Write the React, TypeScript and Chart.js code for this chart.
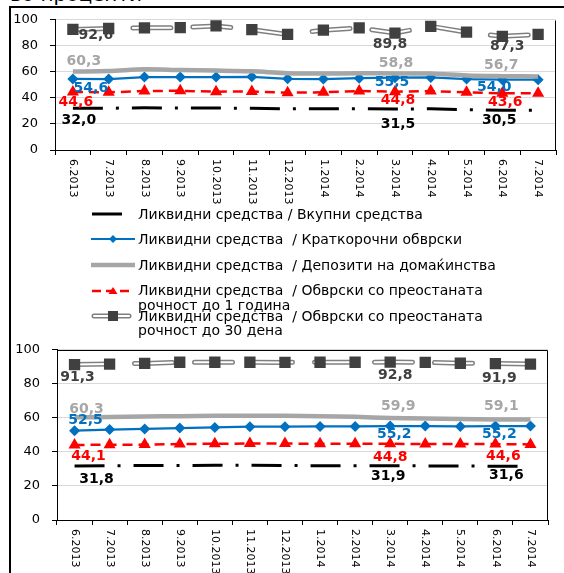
import React, { useEffect, useRef } from "react";
import { Chart, registerables } from "chart.js";

Chart.register(...registerables);
Chart.defaults.font.family = "DejaVu Sans";

// ---------- data ----------
const months = [
  "6.2013", "7.2013", "8.2013", "9.2013", "10.2013", "11.2013", "12.2013",
  "1.2014", "2.2014", "3.2014", "4.2014", "5.2014", "6.2014", "7.2014",
];

const seriesNames = [
  "Ликвидни средства / Вкупни средства",
  "Ликвидни средства  / Краткорочни обврски",
  "Ликвидни средства  / Депозити на домаќинства",
  "Ликвидни средства  / Обврски со преостаната\nрочност до 1 година",
  "Ликвидни средства  / Обврски со преостаната\nрочност до 30 дена",
];

const yTicks = [0, 20, 40, 60, 80, 100];

// upper panel
const upperTotalAssets = [32.0, 32.1, 32.4, 32.3, 32.2, 32.0, 31.7, 31.6, 31.8, 31.5, 31.6, 31.0, 30.5, 30.6];
const upperShortTerm = [54.6, 54.5, 56.0, 56.0, 56.0, 56.2, 54.7, 54.5, 55.2, 55.5, 55.7, 54.5, 54.0, 54.0];
const upperHouseholdDeposits = [60.3, 60.6, 62.0, 61.4, 61.0, 60.4, 59.0, 58.7, 59.0, 58.8, 58.7, 57.2, 56.7, 56.5];
const upperUpToOneYear = [44.6, 44.3, 45.3, 45.5, 44.8, 45.0, 44.0, 44.3, 45.3, 44.8, 45.3, 44.3, 43.6, 43.6];
const upperUpTo30Days = [92.6, 93.3, 93.8, 94.0, 95.3, 92.5, 88.8, 92.0, 93.8, 89.8, 95.0, 90.5, 87.3, 88.8];

// lower panel
const lowerTotalAssets = [31.8, 31.9, 32.0, 32.0, 32.1, 32.1, 32.0, 31.9, 31.9, 31.9, 31.8, 31.7, 31.6, 31.6];
const lowerShortTerm = [52.5, 53.1, 53.5, 54.0, 54.4, 54.8, 54.8, 55.0, 55.0, 55.2, 55.2, 55.0, 55.2, 55.2];
const lowerHouseholdDeposits = [60.3, 60.5, 60.8, 61.0, 61.2, 61.3, 61.3, 61.0, 60.6, 59.9, 59.6, 59.3, 59.1, 59.0];
const lowerUpToOneYear = [44.1, 44.2, 44.3, 44.6, 44.8, 44.9, 44.9, 44.8, 44.8, 44.8, 44.6, 44.6, 44.6, 44.4];
const lowerUpTo30Days = [91.3, 91.6, 92.0, 92.7, 92.7, 92.7, 92.6, 92.7, 92.7, 92.8, 92.6, 92.1, 91.9, 91.6];

// months whose values are written next to the marks
const labelledIndices = [0, 9, 12];

// ---------- styling ----------
const COLORS = {
  total: "#000000",
  shortTerm: "#0070C0",
  deposits: "#A6A6A6",
  oneYear: "#FF0000",
  days30: "#404040",
  days30Outline: "#7F7F7F",
  grid: "#D9D9D9",
};

type Pair = [number, number];
type OffsetSet = { total: Pair[]; shortTerm: Pair[]; deposits: Pair[]; oneYear: Pair[]; days30: Pair[] };

const upperLabelOffsets: OffsetSet = {
  days30: [[23, 6], [-5, 11], [5, 10]],
  deposits: [[11, -10], [1, -10], [-1, -11]],
  shortTerm: [[18, 9], [-3, 5], [-8, 8]],
  oneYear: [[3, 10], [3, 9], [3, 9]],
  total: [[6, 12], [3, 15], [-3, 10]],
};

const lowerLabelOffsets: OffsetSet = {
  days30: [[3, 13], [5, 13], [4, 15]],
  deposits: [[12, -8], [8, -12], [6, -13]],
  shortTerm: [[11, -10], [4, 8], [4, 8]],
  oneYear: [[14, 11], [0, 14], [8, 12]],
  total: [[22, 13], [-2, 11], [11, 9]],
};

const fmt = (v: number) => v.toFixed(1).replace(".", ",");

// ---------- plugins ----------
const valueLabelPlugin = {
  id: "valueLabels",
  afterDatasetsDraw(chart: any) {
    const ctx = chart.ctx;
    ctx.save();
    ctx.font = "bold 14px 'DejaVu Sans'";
    ctx.textAlign = "center";
    ctx.textBaseline = "middle";
    chart.data.datasets.forEach((ds: any, di: number) => {
      const spec = ds.valueLabels;
      if (!spec) return;
      const meta = chart.getDatasetMeta(di);
      labelledIndices.forEach((idx, k) => {
        const el = meta.data[idx];
        if (!el) return;
        const [dx, dy] = spec.offsets[k];
        ctx.fillStyle = spec.color;
        ctx.fillText(fmt(ds.data[idx]), el.x + dx, el.y + dy);
      });
    });
    ctx.restore();
  },
};

// category labels written downwards under each tick
const verticalLabelsPlugin = {
  id: "verticalLabels",
  afterDraw(chart: any) {
    const xs = chart.scales.x;
    const ctx = chart.ctx;
    ctx.save();
    ctx.font = "11px 'DejaVu Sans'";
    ctx.fillStyle = "#000";
    ctx.textAlign = "left";
    ctx.textBaseline = "middle";
    (chart.data.labels as string[]).forEach((lab, i) => {
      const x = xs.getPixelForValue(i);
      ctx.save();
      ctx.translate(x, xs.top + 9);
      ctx.rotate(Math.PI / 2);
      ctx.fillText(lab, 0, 0);
      ctx.restore();
    });
    ctx.restore();
  },
};

// extra border lines around the plot area
const framePlugin = {
  id: "frame",
  beforeDatasetsDraw(chart: any, _args: any, opts: any) {
    const sides: string[] = (opts && opts.sides) || [];
    if (!sides.length) return;
    const { left, right, top, bottom } = chart.chartArea;
    const ctx = chart.ctx;
    const l = Math.round(left) + 0.5;
    const r = Math.round(right) - 0.5;
    const t = Math.round(top) + 0.5;
    const b = Math.round(bottom) + 0.5;
    ctx.save();
    ctx.strokeStyle = "#000";
    ctx.lineWidth = 1;
    ctx.beginPath();
    if (sides.includes("top")) { ctx.moveTo(l, t); ctx.lineTo(r, t); }
    if (sides.includes("right")) { ctx.moveTo(r, t); ctx.lineTo(r, b); }
    ctx.stroke();
    ctx.restore();
  },
};

type SeriesSet = {
  total: number[];
  shortTerm: number[];
  deposits: number[];
  oneYear: number[];
  days30: number[];
};

function makeDatasets(s: SeriesSet, off: OffsetSet): any[] {
  // datasets earlier in the list are painted on top
  return [
    {
      label: seriesNames[4],
      data: s.days30,
      borderColor: "#FFFFFF",
      borderWidth: 2,
      borderDash: [38, 22],
      borderCapStyle: "round",
      pointStyle: "rect",
      pointRadius: 8,
      pointBackgroundColor: COLORS.days30,
      pointBorderColor: COLORS.days30,
      pointBorderWidth: 0,
      valueLabels: { color: COLORS.days30, offsets: off.days30 },
    },
    {
      label: seriesNames[4] + " (рамка)",
      data: s.days30,
      borderColor: COLORS.days30Outline,
      borderWidth: 5,
      borderDash: [38, 22],
      borderCapStyle: "round",
      pointRadius: 0,
    },
    {
      label: seriesNames[3],
      data: s.oneYear,
      borderColor: COLORS.oneYear,
      borderWidth: 2.5,
      borderDash: [10, 6],
      pointStyle: "triangle",
      pointRadius: 7,
      pointBackgroundColor: COLORS.oneYear,
      pointBorderColor: COLORS.oneYear,
      pointBorderWidth: 0,
      valueLabels: { color: COLORS.oneYear, offsets: off.oneYear },
    },
    {
      label: seriesNames[2],
      data: s.deposits,
      borderColor: COLORS.deposits,
      borderWidth: 4.5,
      tension: 0.3,
      pointRadius: 0,
      valueLabels: { color: COLORS.deposits, offsets: off.deposits },
    },
    {
      label: seriesNames[1],
      data: s.shortTerm,
      borderColor: COLORS.shortTerm,
      borderWidth: 2.25,
      pointStyle: "rectRot",
      pointRadius: 5.5,
      pointBackgroundColor: COLORS.shortTerm,
      pointBorderColor: COLORS.shortTerm,
      pointBorderWidth: 0,
      valueLabels: { color: COLORS.shortTerm, offsets: off.shortTerm },
    },
    {
      label: seriesNames[0],
      data: s.total,
      borderColor: COLORS.total,
      borderWidth: 3,
      borderDash: [30, 13, 3, 13],
      pointRadius: 0,
      valueLabels: { color: COLORS.total, offsets: off.total },
    },
  ];
}

type PanelProps = {
  top: number;
  height: number;
  axisWidth: number;
  padRight: number;
  xAxisHeight: number;
  series: SeriesSet;
  offsets: OffsetSet;
  frameSides: string[];
};

function Panel({ top, height, axisWidth, padRight, xAxisHeight, series, offsets, frameSides }: PanelProps) {
  const ref = useRef<HTMLCanvasElement>(null);
  useEffect(() => {
    const chart = new Chart(ref.current as HTMLCanvasElement, {
      type: "line",
      data: { labels: months, datasets: makeDatasets(series, offsets) },
      options: {
        responsive: false,
        animation: false,
        devicePixelRatio: 1,
        layout: { padding: { top: 16, right: padRight, left: 0, bottom: 0 } },
        plugins: {
          legend: { display: false },
          tooltip: { enabled: false },
          frame: { sides: frameSides },
        } as any,
        scales: {
          x: {
            type: "category",
            offset: true,
            grid: {
              offset: true,
              drawOnChartArea: false,
              drawTicks: true,
              tickLength: 5,
              tickColor: "#000",
            },
            border: { display: true, color: "#000", width: 1 },
            ticks: { display: false },
            afterFit: (s: any) => { s.height = xAxisHeight; },
          },
          y: {
            min: yTicks[0],
            max: yTicks[yTicks.length - 1],
            afterBuildTicks: (s: any) => { s.ticks = yTicks.map((v) => ({ value: v })); },
            ticks: {
              color: "#000",
              font: { size: 13, family: "DejaVu Sans" },
              padding: 12,
            },
            grid: { color: COLORS.grid, tickColor: "#000", tickLength: 5, drawTicks: true },
            border: { display: true, color: "#000", width: 1 },
            afterFit: (s: any) => { s.width = axisWidth; },
          },
        } as any,
      },
      plugins: [valueLabelPlugin, verticalLabelsPlugin, framePlugin],
    });
    return () => chart.destroy();
  }, []);
  return (
    <canvas
      ref={ref}
      width={564}
      height={height}
      style={{ position: "absolute", left: 0, top, width: 564, height }}
    />
  );
}

// ---------- legend symbols ----------
function LegendSymbol({ kind }: { kind: number }) {
  const w = 46;
  const h = 14;
  const cy = 7;
  if (kind === 0) {
    return (
      <svg width={w} height={h}>
        <line x1={1} y1={cy} x2={31} y2={cy} stroke={COLORS.total} strokeWidth={3} />
      </svg>
    );
  }
  if (kind === 1) {
    return (
      <svg width={w} height={h}>
        <line x1={0} y1={cy} x2={44} y2={cy} stroke={COLORS.shortTerm} strokeWidth={2} />
        <polygon points={`22,${cy - 4} 26,${cy} 22,${cy + 4} 18,${cy}`} fill={COLORS.shortTerm} />
      </svg>
    );
  }
  if (kind === 2) {
    return (
      <svg width={w} height={h}>
        <line x1={0} y1={cy} x2={44} y2={cy} stroke={COLORS.deposits} strokeWidth={4.5} />
      </svg>
    );
  }
  if (kind === 3) {
    return (
      <svg width={w} height={h}>
        <line x1={1} y1={cy} x2={39} y2={cy} stroke={COLORS.oneYear} strokeWidth={2.5} strokeDasharray="9 5" />
        <polygon points={`22,${cy - 4} 26.5,${cy + 3} 17.5,${cy + 3}`} fill={COLORS.oneYear} />
      </svg>
    );
  }
  return (
    <svg width={w} height={h}>
      <line x1={3} y1={cy} x2={38} y2={cy} stroke={COLORS.days30Outline} strokeWidth={5} strokeLinecap="round" />
      <line x1={3} y1={cy} x2={38} y2={cy} stroke="#FFFFFF" strokeWidth={2} strokeLinecap="round" />
      <rect x={17} y={cy - 5} width={10} height={10} fill={COLORS.days30} />
    </svg>
  );
}

const legendRowCenters = [214, 239, 265, 290.5, 316];

function Legend() {
  return (
    <>
      {seriesNames.map((name, i) => (
        <React.Fragment key={i}>
          <div style={{ position: "absolute", left: 91, top: legendRowCenters[i] - 7, height: 14 }}>
            <LegendSymbol kind={i} />
          </div>
          <div
            style={{
              position: "absolute",
              left: 138,
              top: legendRowCenters[i] - 7.5,
              fontFamily: "'DejaVu Sans'",
              fontSize: 14,
              lineHeight: "14.5px",
              whiteSpace: "pre",
              color: "#000",
            }}
          >
            {name}
          </div>
        </React.Fragment>
      ))}
    </>
  );
}

export default function App() {
  const upper: SeriesSet = {
    total: upperTotalAssets,
    shortTerm: upperShortTerm,
    deposits: upperHouseholdDeposits,
    oneYear: upperUpToOneYear,
    days30: upperUpTo30Days,
  };
  const lower: SeriesSet = {
    total: lowerTotalAssets,
    shortTerm: lowerShortTerm,
    deposits: lowerHouseholdDeposits,
    oneYear: lowerUpToOneYear,
    days30: lowerUpTo30Days,
  };
  return (
    <div
      style={{
        position: "fixed",
        left: 0,
        top: 0,
        width: 564,
        height: 573,
        overflow: "hidden",
        background: "#fff",
      }}
    >
      <div
        style={{
          position: "absolute",
          left: 10,
          top: -16,
          fontFamily: "'DejaVu Sans'",
          fontSize: 20,
          lineHeight: "20px",
          whiteSpace: "pre",
          color: "#000",
        }}
      >
        во проценти
      </div>
      <div
        style={{
          position: "absolute",
          left: 9,
          top: 6,
          width: 553,
          height: 620,
          borderLeft: "2px solid #000",
          borderTop: "2px solid #000",
          background: "transparent",
        }}
      />
      <Panel
        top={0}
        height={215}
        axisWidth={55}
        padRight={2}
        xAxisHeight={65}
        series={upper}
        offsets={upperLabelOffsets}
        frameSides={["right"]}
      />
      <Legend />
      <Panel
        top={330}
        height={243}
        axisWidth={57}
        padRight={16}
        xAxisHeight={53}
        series={lower}
        offsets={lowerLabelOffsets}
        frameSides={["top", "right"]}
      />
    </div>
  );
}
